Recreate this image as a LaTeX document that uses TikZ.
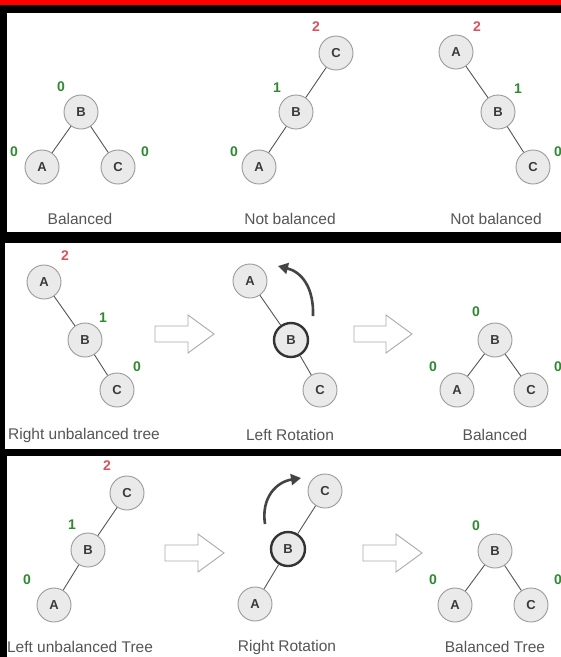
\documentclass[tikz,border=0pt]{standalone}
\usepackage{fontspec}
\setmainfont{Liberation Sans}
\usetikzlibrary{arrows.meta}
\definecolor{nodefill}{HTML}{EAEAEA}
\definecolor{nodeline}{HTML}{9A9A9A}
\definecolor{edgecol}{HTML}{555555}
\definecolor{lettercol}{HTML}{3A3A3A}
\definecolor{capcol}{HTML}{555555}
\definecolor{grn}{HTML}{2F8A2F}
\definecolor{rd}{HTML}{E0505A}
\definecolor{rotcol}{HTML}{444444}
\definecolor{blkline}{HTML}{AAAAAA}
\begin{document}
\begin{tikzpicture}[x=1pt,y=-1pt,
  nd/.style={circle, draw=nodeline, fill=nodefill, line width=0.9pt, minimum size=34pt, inner sep=0pt,
    font=\bfseries\fontsize{13}{13}\selectfont, text=lettercol},
  hl/.style={nd, draw=black!80, line width=2.4pt},
  gn/.style={inner sep=0pt, text=grn, font=\bfseries\fontsize{14}{14}\selectfont},
  rn/.style={inner sep=0pt, text=rd, font=\bfseries\fontsize{14}{14}\selectfont},
  captxt/.style={inner sep=0pt, text=capcol, font=\fontsize{15.5}{16}\selectfont},
  ed/.style={draw=edgecol, line width=0.9pt},
  blk/.style={draw=blkline, fill=white, line width=0.9pt, line join=miter},
  rot/.style={draw=rotcol, line width=2.6pt, -{Triangle[length=10pt,width=11pt]}}
]
\useasboundingbox (0,0) rectangle (561,657);
\fill[black] (0,0) rectangle (561,657);
\fill[red] (0,0) rectangle (561,4.5);
\fill[white] (7,13) rectangle (561,232);
\fill[white] (5,243) rectangle (561,449);
\fill[white] (7,456) rectangle (561,657);

% ---------- Panel 1 ----------
\node[nd] (p1aB) at (81,112) {B};
\node[nd] (p1aA) at (42,167) {A};
\node[nd] (p1aC) at (118,167) {C};
\draw[ed] (p1aB) -- (p1aA);
\draw[ed] (p1aB) -- (p1aC);
\node[gn] (p1aLB) at (61,87) {0};
\node[gn] (p1aLA) at (14,152) {0};
\node[gn] (p1aLC) at (145,152) {0};
\node[captxt] (p1aCap) at (80,219) {Balanced};

\node[nd] (p1bC) at (336,53) {C};
\node[nd] (p1bB) at (296,112) {B};
\node[nd] (p1bA) at (259,167) {A};
\draw[ed] (p1bC) -- (p1bB);
\draw[ed] (p1bB) -- (p1bA);
\node[rn] (p1bLC) at (316,27) {2};
\node[gn] (p1bLB) at (277,88) {1};
\node[gn] (p1bLA) at (234,152) {0};
\node[captxt] (p1bCap) at (290,219) {Not balanced};

\node[nd] (p1cA) at (456,52) {A};
\node[nd] (p1cB) at (498,112) {B};
\node[nd] (p1cC) at (533,167) {C};
\draw[ed] (p1cA) -- (p1cB);
\draw[ed] (p1cB) -- (p1cC);
\node[rn] (p1cLA) at (477,27) {2};
\node[gn] (p1cLB) at (518,89) {1};
\node[gn] (p1cLC) at (558,152) {0};
\node[captxt] (p1cCap) at (496,219) {Not balanced};

% ---------- Panel 2 ----------
\node[nd] (p2aA) at (44,282) {A};
\node[nd] (p2aB) at (85,340) {B};
\node[nd] (p2aC) at (117,390) {C};
\draw[ed] (p2aA) -- (p2aB);
\draw[ed] (p2aB) -- (p2aC);
\node[rn] (p2aLA) at (65,256) {2};
\node[gn] (p2aLB) at (103,318) {1};
\node[gn] (p2aLC) at (137,367) {0};
\node[captxt] (p2aCap) at (84,435) {Right unbalanced tree};

\coordinate (p2ar1) at (155,334);
\draw[blk] (p2ar1) ++(0,-8) -- ++(33,0) -- ++(0,-11) -- ++(26,19) -- ++(-26,19) -- ++(0,-11) -- ++(-33,0) -- cycle;

\node[nd] (p2bA) at (250,281) {A};
\node[hl] (p2bB) at (291,340) {B};
\node[nd] (p2bC) at (320,390) {C};
\draw[ed] (p2bA) -- (p2bB);
\draw[ed] (p2bB) -- (p2bC);
\coordinate (p2rotS) at (313,316);
\coordinate (p2rotE) at (278,266);
\draw[rot] (p2rotS) .. controls (314,288) and (302,272) .. (p2rotE);
\node[captxt] (p2bCap) at (290,435) {Left Rotation};

\coordinate (p2ar2) at (354,334);
\draw[blk] (p2ar2) ++(0,-8) -- ++(32,0) -- ++(0,-11) -- ++(26,19) -- ++(-26,19) -- ++(0,-11) -- ++(-32,0) -- cycle;

\node[nd] (p2cB) at (495,340) {B};
\node[nd] (p2cA) at (457,390) {A};
\node[nd] (p2cC) at (531,390) {C};
\draw[ed] (p2cB) -- (p2cA);
\draw[ed] (p2cB) -- (p2cC);
\node[gn] (p2cLB) at (476,312) {0};
\node[gn] (p2cLA) at (433,367) {0};
\node[gn] (p2cLC) at (558,367) {0};
\node[captxt] (p2cCap) at (495,435) {Balanced};

% ---------- Panel 3 ----------
\node[nd] (p3aC) at (127,493) {C};
\node[nd] (p3aB) at (88,550) {B};
\node[nd] (p3aA) at (54,605) {A};
\draw[ed] (p3aC) -- (p3aB);
\draw[ed] (p3aB) -- (p3aA);
\node[rn] (p3aLC) at (107,466) {2};
\node[gn] (p3aLB) at (72,525) {1};
\node[gn] (p3aLA) at (27,580) {0};
\node[captxt] (p3aCap) at (80,647) {Left unbalanced Tree};

\coordinate (p3ar1) at (165,553);
\draw[blk] (p3ar1) ++(0,-8) -- ++(33,0) -- ++(0,-11) -- ++(26,19) -- ++(-26,19) -- ++(0,-11) -- ++(-33,0) -- cycle;

\node[nd] (p3bC) at (325,491) {C};
\node[hl] (p3bB) at (288,549) {B};
\node[nd] (p3bA) at (255,604) {A};
\draw[ed] (p3bC) -- (p3bB);
\draw[ed] (p3bB) -- (p3bA);
\coordinate (p3rotS) at (265,524);
\coordinate (p3rotE) at (301,478);
\draw[rot] (p3rotS) .. controls (261,498) and (276,482) .. (p3rotE);
\node[captxt] (p3bCap) at (287,647) {Right Rotation};

\coordinate (p3ar2) at (363,553);
\draw[blk] (p3ar2) ++(0,-8) -- ++(33,0) -- ++(0,-11) -- ++(26,19) -- ++(-26,19) -- ++(0,-11) -- ++(-33,0) -- cycle;

\node[nd] (p3cB) at (495,551) {B};
\node[nd] (p3cA) at (455,605) {A};
\node[nd] (p3cC) at (531,605) {C};
\draw[ed] (p3cB) -- (p3cA);
\draw[ed] (p3cB) -- (p3cC);
\node[gn] (p3cLB) at (476,526) {0};
\node[gn] (p3cLA) at (433,580) {0};
\node[gn] (p3cLC) at (558,580) {0};
\node[captxt] (p3cCap) at (495,647) {Balanced Tree};
\end{tikzpicture}
\end{document}
